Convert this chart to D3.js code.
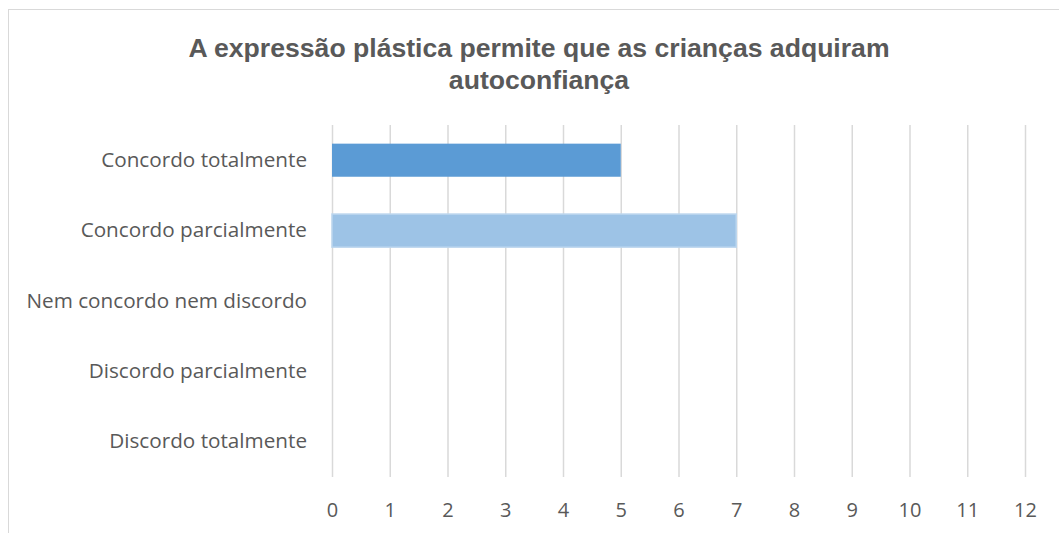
<!DOCTYPE html>
<html><head><meta charset="utf-8">
<script src="https://cdn.jsdelivr.net/npm/d3@7/dist/d3.min.js"></script>
<style>body{margin:0;background:#fff}svg{display:block}</style>
</head><body>
<svg id="c" width="1059" height="533"></svg>
<script>
const categories = ["Concordo totalmente","Concordo parcialmente","Nem concordo nem discordo","Discordo parcialmente","Discordo totalmente"];
const values = [5, 7, 0, 0, 0];
const barColors = ["#5b9bd5", "#9dc3e6", "#5b9bd5", "#5b9bd5", "#5b9bd5"];
const ticks = [0,1,2,3,4,5,6,7,8,9,10,11,12];
const titleLines = ["A expressão plástica permite que as crianças adquiram", "autoconfiança"];

const svg = d3.select("#c");
// chart border
svg.append("rect").attr("x",8.5).attr("y",9.5).attr("width",1060).attr("height",560)
  .attr("fill","none").attr("stroke","#d9d9d9").attr("stroke-width",1);

const x = d3.scaleLinear().domain([0,12]).range([332,1025]);
const y = d3.scaleBand().domain(categories).range([125,477]).paddingInner(0.53).paddingOuter(0.265);

// gridlines
svg.append("g").selectAll("line").data(ticks).join("line")
  .attr("x1",d=>x(d)+0.5).attr("x2",d=>x(d)+0.5).attr("y1",125).attr("y2",477)
  .attr("stroke","#d9d9d9").attr("stroke-width",1.5);

// bars
svg.append("g").selectAll("rect").data(categories).join("rect")
  .attr("x",x(0)).attr("y",d=>y(d))
  .attr("width",(d,i)=>x(values[i])-x(0)).attr("height",y.bandwidth())
  .attr("fill",(d,i)=>barColors[i])
  .attr("stroke",(d,i)=>i===1 && values[i]>0 ? "#bcd6ee" : "none").attr("stroke-width",1.5);

// y labels
const yAxis = d3.axisLeft(y).tickSize(0).tickPadding(25);
const gy = svg.append("g").attr("transform",`translate(${x(0)},0)`).call(yAxis);
gy.select(".domain").remove();
gy.selectAll("text").attr("fill","#595959").style("font-family","'Open Sans', sans-serif").style("font-size","20.7px");

// x labels
const xAxis = d3.axisBottom(x).tickValues(ticks).tickSize(0).tickPadding(0);
const gx = svg.append("g").attr("transform",`translate(0,503)`).call(xAxis);
gx.select(".domain").remove();
gx.selectAll("text").attr("fill","#595959").style("font-family","'Open Sans', sans-serif").style("font-size","20px");

// title
svg.append("g").selectAll("text").data(titleLines).join("text")
  .attr("x",539).attr("y",(d,i)=>57+i*32).attr("text-anchor","middle")
  .attr("fill","#595959").style("font-family","'Liberation Sans', Arial, sans-serif")
  .style("font-weight","bold").style("font-size","26.6px").text(d=>d);
</script>
</body></html>
